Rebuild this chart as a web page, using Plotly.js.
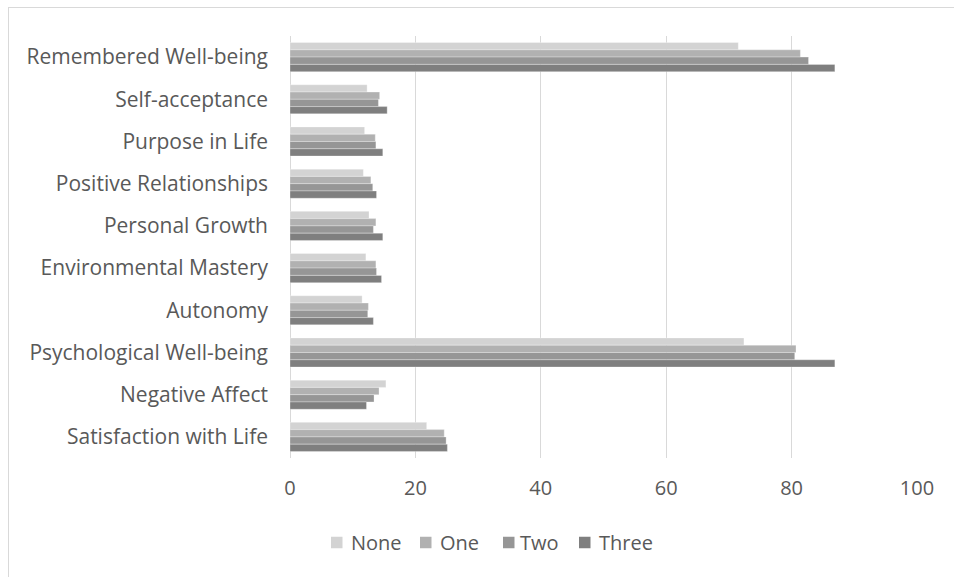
<!DOCTYPE html>
<html>
<head>
<meta charset="utf-8">
<script src="https://cdn.plot.ly/plotly-3.0.1.min.js"></script>
<style>
html, body { margin: 0; padding: 0; background: #fff; }
#frame { position: absolute; left: 8px; top: 7px; width: 960px; height: 580px; border-left: 1px solid #d9d9d9; border-top: 1px solid #d9d9d9; }
#chart { position: absolute; left: 0; top: 0; width: 954px; height: 577px; }
</style>
</head>
<body>
<div id="frame"></div>
<div id="chart"></div>
<script>
const categories = [
  "Remembered Well-being",
  "Self-acceptance",
  "Purpose in Life",
  "Positive Relationships",
  "Personal Growth",
  "Environmental Mastery",
  "Autonomy",
  "Psychological Well-being",
  "Negative Affect",
  "Satisfaction with Life"
];
const seriesNames = ["None", "One", "Two", "Three"];
const valuesNone  = [71.5, 12.3, 11.9, 11.7, 12.6, 12.1, 11.5, 72.4, 15.3, 21.8];
const valuesOne   = [81.4, 14.3, 13.6, 12.9, 13.7, 13.7, 12.5, 80.7, 14.2, 24.6];
const valuesTwo   = [82.7, 14.1, 13.7, 13.2, 13.3, 13.8, 12.4, 80.5, 13.4, 24.9];
const valuesThree = [86.9, 15.5, 14.8, 13.8, 14.8, 14.6, 13.3, 86.9, 12.2, 25.1];
const colors = ["#d3d3d3", "#b1b1b1", "#969696", "#7f7f7f"];

const allValues = [valuesNone, valuesOne, valuesTwo, valuesThree];
const traces = allValues.map((vals, i) => ({
  type: "bar",
  orientation: "h",
  name: seriesNames[i],
  y: categories,
  x: vals,
  showlegend: false,
  marker: { color: colors[i], line: { color: "rgba(255,255,255,0.6)", width: 0.5 } }
}));

const W = 954, H = 577;
const M = { l: 290, r: 37, t: 36, b: 119 };
const pw = W - M.l - M.r, ph = H - M.t - M.b;
const px = x => (x - M.l) / pw;
const py = y => (H - M.b - y) / ph;

// custom legend (Excel-style compact layout)
const legendSquareX = [331, 420, 503, 579];
const legendTextX = [349, 438, 518, 597];
const legendY = 542.5;
const sq = 11.5;
const shapes = seriesNames.map((n, i) => ({
  type: "rect", xref: "paper", yref: "paper",
  x0: px(legendSquareX[i]), x1: px(legendSquareX[i] + sq),
  y0: py(legendY + sq / 2), y1: py(legendY - sq / 2),
  fillcolor: colors[i], line: { width: 0 }
}));
const font = "'Open Sans', 'Noto Sans', sans-serif";
const annotations = seriesNames.map((n, i) => ({
  text: n, xref: "paper", yref: "paper",
  x: px(legendTextX[i]), y: py(legendY),
  xanchor: "left", yanchor: "middle", showarrow: false,
  font: { family: font, size: 20, color: "#595959" }
}));

const layout = {
  width: W,
  height: H,
  paper_bgcolor: "rgba(0,0,0,0)",
  plot_bgcolor: "rgba(0,0,0,0)",
  margin: M,
  barmode: "group",
  bargap: 0.31,
  bargroupgap: 0,
  showlegend: false,
  shapes: shapes,
  annotations: annotations,
  xaxis: {
    range: [0, 100],
    dtick: 20,
    showgrid: true,
    gridcolor: "#d9d9d9",
    gridwidth: 1,
    zeroline: true,
    zerolinecolor: "#d9d9d9",
    showline: false,
    ticks: "",
    ticklabelstandoff: 16,
    tickfont: { family: font, size: 20, color: "#595959" }
  },
  yaxis: {
    type: "category",
    autorange: "reversed",
    showgrid: false,
    showline: false,
    zeroline: false,
    ticks: "",
    ticklabelstandoff: 21,
    tickfont: { family: font, size: 21, color: "#595959" }
  }
};

Plotly.newPlot("chart", traces, layout, { displayModeBar: false, staticPlot: true });
</script>
</body>
</html>
